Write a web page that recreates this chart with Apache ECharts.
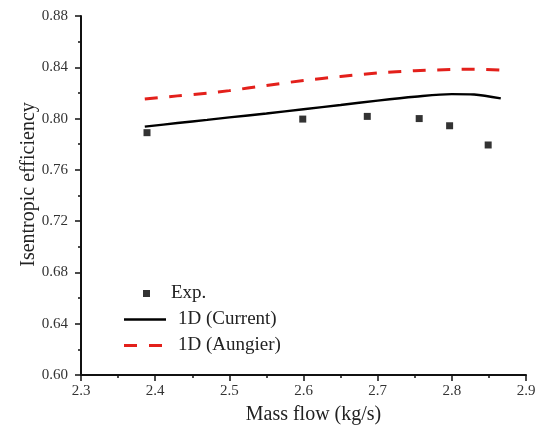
<!DOCTYPE html>
<html>
<head>
<meta charset="utf-8">
<script src="https://cdn.jsdelivr.net/npm/echarts@6/dist/echarts.min.js"></script>
<style>
  html, body { margin: 0; padding: 0; background: #fff; }
  #chart { width: 544px; height: 430px; }
</style>
</head>
<body>
<div id="chart"></div>
<script>
// measured points (Exp.)
var expFlow = [2.389, 2.599, 2.686, 2.756, 2.797, 2.849];
var expEff = [0.789, 0.7996, 0.8017, 0.800, 0.7944, 0.7794];

// 1D model curves
var modelFlow = [2.386, 2.43, 2.47, 2.5, 2.55, 2.6, 2.65, 2.7, 2.75, 2.8, 2.83, 2.866];
var currentEff = [0.7937, 0.7965, 0.799, 0.8009, 0.804, 0.8073, 0.8106, 0.814, 0.817, 0.8191, 0.8188, 0.8157];
var aungierEff = [0.8152, 0.8177, 0.8198, 0.8218, 0.8258, 0.8297, 0.8328, 0.8356, 0.8373, 0.8383, 0.8385, 0.8378];

function pairs(xs, ys) {
  return xs.map(function (x, i) { return [x, ys[i]]; });
}

var font = "'Liberation Serif', 'DejaVu Serif', serif";
var red = "#e3201b";
var chart = echarts.init(document.getElementById("chart"));

var option = {
  animation: false,
  backgroundColor: "#fff",
  textStyle: { fontFamily: font, color: "#222" },
  grid: { left: 81, right: 18, top: 16, bottom: 54 },
  legend: {
    orient: "vertical",
    left: 119,
    top: 279,
    itemWidth: 42,
    itemHeight: 8,
    itemGap: 7,
    symbolKeepAspect: true,
    textStyle: { fontFamily: font, fontSize: 19, color: "#222" },
    data: [
      // small square in the middle of a wide icon box
      { name: "Exp.", icon: "path://M0,0h0.05v0.05h-0.05zM19,-3.5h7v7h-7zM41.95,0h0.05v0.05h-0.05z" },
      { name: "1D (Current)", icon: "path://M0,0h42v2.4h-42z", textStyle: { padding: [0, 0, 0, 7] } },
      { name: "1D (Aungier)", icon: "path://M0,0h13v3h-13zM25,0h13v3h-13zM41.95,1.5h0.05v0.05h-0.05z", textStyle: { padding: [0, 0, 0, 7] } }
    ]
  },
  xAxis: {
    type: "value",
    min: 2.3,
    max: 2.9,
    interval: 0.1,
    name: "Mass flow (kg/s)",
    nameLocation: "middle",
    nameGap: 30,
    nameMoveOverlap: false,
    nameTextStyle: { fontFamily: font, fontSize: 20, color: "#222", padding: [0, 0, 0, 20] },
    splitLine: { show: false },
    axisLine: { lineStyle: { color: "#111", width: 2 } },
    axisTick: { inside: false, length: 6, lineStyle: { color: "#111", width: 1.5 } },
    minorTick: { show: true, splitNumber: 2, length: 3, lineStyle: { color: "#111", width: 1.5 } },
    axisLabel: {
      margin: 9,
      fontFamily: font,
      fontSize: 15,
      color: "#333",
      formatter: function (v) { return v.toFixed(1); }
    }
  },
  yAxis: {
    type: "value",
    min: 0.60,
    max: 0.88,
    interval: 0.04,
    name: "Isentropic efficiency",
    nameLocation: "middle",
    nameGap: 42,
    nameMoveOverlap: false,
    nameTextStyle: { fontFamily: font, fontSize: 20, color: "#222", padding: [0, 0, 0, 22] },
    splitLine: { show: false },
    axisLine: { show: true, lineStyle: { color: "#111", width: 2 } },
    axisTick: { inside: false, length: 6, lineStyle: { color: "#111", width: 1.5 } },
    minorTick: { show: true, splitNumber: 2, length: 3, lineStyle: { color: "#111", width: 1.5 } },
    axisLabel: {
      margin: 13,
      fontFamily: font,
      fontSize: 15,
      color: "#333",
      formatter: function (v) { return v.toFixed(2); }
    }
  },
  series: [
    {
      name: "Exp.",
      type: "scatter",
      symbol: "rect",
      symbolSize: 7,
      itemStyle: { color: "#000" },
      data: pairs(expFlow, expEff)
    },
    {
      name: "1D (Current)",
      type: "line",
      smooth: 0.3,
      showSymbol: false,
      symbol: "none",
      itemStyle: { color: "#000" },
      lineStyle: { color: "#000", width: 2.4 },
      data: pairs(modelFlow, currentEff)
    },
    {
      name: "1D (Aungier)",
      type: "line",
      smooth: 0.3,
      showSymbol: false,
      symbol: "none",
      itemStyle: { color: red },
      lineStyle: { color: red, width: 3, type: [13, 11.5] },
      data: pairs(modelFlow, aungierEff)
    }
  ]
};

chart.setOption(option);
</script>
</body>
</html>
